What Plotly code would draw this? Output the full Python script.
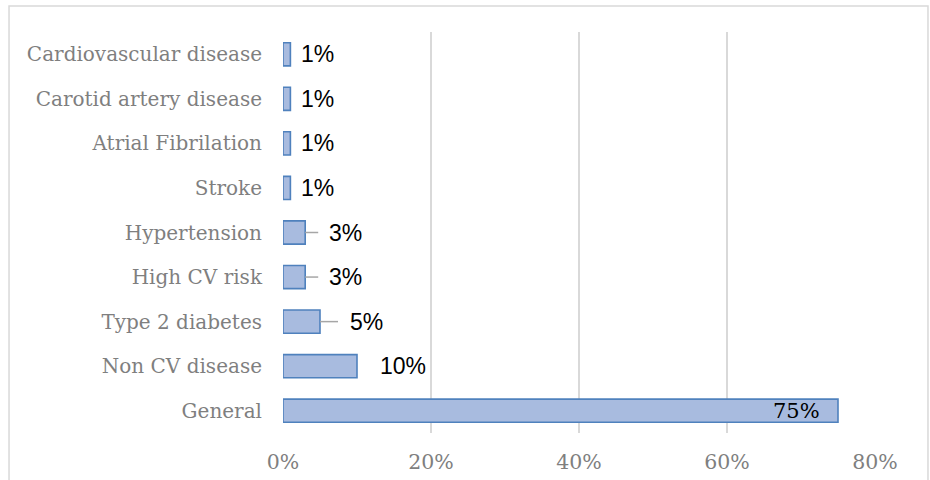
import plotly.graph_objects as go

# Share of studies by population group (%)
categories = [
    "Cardiovascular disease",
    "Carotid artery disease",
    "Atrial Fibrilation",
    "Stroke",
    "Hypertension",
    "High CV risk",
    "Type 2 diabetes",
    "Non CV disease",
    "General",
]
values = [1, 1, 1, 1, 3, 3, 5, 10, 75]
value_labels = ["1%", "1%", "1%", "1%", "3%", "3%", "5%", "10%", "75%"]
x_ticks = [0, 20, 40, 60, 80]
x_tick_labels = ["0%", "20%", "40%", "60%", "80%"]

SERIF = "DejaVu Serif"
SANS = "Liberation Sans"
GRID = "#d9d9d9"

fig = go.Figure(
    go.Bar(
        x=values,
        y=categories,
        orientation="h",
        width=0.52,
        marker=dict(color="#a8bbdf", line=dict(color="#4f81bd", width=1.6)),
        hoverinfo="skip",
    )
)

# Data labels: outside for short bars (with leader lines where needed), inside for the long one
label_offsets = {1: 9, 3: 22, 5: 28, 10: 21}
leader_lengths = {3: 13, 5: 18}
for cat, val, lab in zip(categories, values, value_labels):
    if val >= 50:
        fig.add_annotation(
            x=val, y=cat, text=lab, showarrow=False, xanchor="right", xshift=-16,
            font=dict(family=SERIF, size=21, color="black"),
        )
    else:
        fig.add_annotation(
            x=val, y=cat, text=lab, showarrow=False, xanchor="left",
            xshift=label_offsets.get(val, 10),
            font=dict(family=SANS, size=23, color="black"),
        )
        if val in leader_lengths:
            fig.add_shape(
                type="line", xref="x", yref="y", xsizemode="pixel",
                xanchor=val, x0=0, x1=leader_lengths[val], y0=cat, y1=cat,
                line=dict(color="#a6a6a6", width=1.5),
            )

# Outer chart border
fig.add_shape(
    type="rect", xref="paper", yref="paper",
    x0=-0.4628, x1=1.0895, y0=-0.15, y1=1.0648,
    line=dict(color=GRID, width=1.5), fillcolor="rgba(0,0,0,0)", layer="below",
)

fig.update_layout(
    width=930,
    height=480,
    margin=dict(l=283, r=55, t=32, b=47, autoexpand=False),
    paper_bgcolor="white",
    plot_bgcolor="white",
    showlegend=False,
    bargap=0.48,
    xaxis=dict(
        range=[0, 80],
        tickvals=x_ticks,
        ticktext=x_tick_labels,
        showgrid=True,
        gridcolor=GRID,
        gridwidth=1.5,
        zeroline=False,
        showline=False,
        ticks="",
        ticklabelstandoff=14,
        automargin=False,
        tickfont=dict(family=SERIF, size=20.5, color="#7f7f7f"),
        fixedrange=True,
    ),
    yaxis=dict(
        categoryorder="array",
        categoryarray=categories[::-1],
        showgrid=False,
        zeroline=False,
        showline=False,
        ticks="",
        ticklabelstandoff=20,
        automargin=False,
        tickfont=dict(family=SERIF, size=20, color="#7f7f7f"),
        fixedrange=True,
    ),
)

fig.write_html("out.html")
